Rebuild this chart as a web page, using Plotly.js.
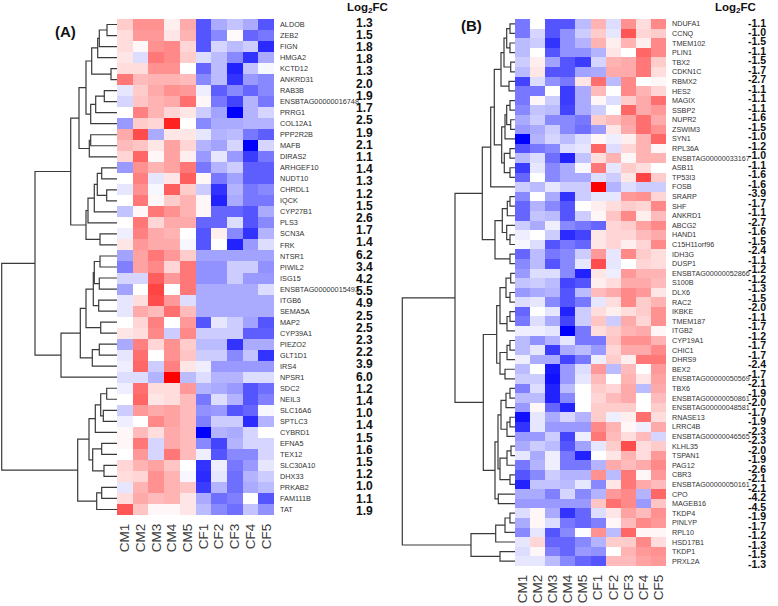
<!DOCTYPE html>
<html><head><meta charset="utf-8">
<script src="https://cdn.plot.ly/plotly-3.0.1.min.js"></script>
<style>body{margin:0;background:#fff}#c{width:778px;height:606px}</style>
</head><body><div id="c"></div>
<script>
const samples = ['CM1','CM2','CM3','CM4','CM5','CF1','CF2','CF3','CF4','CF5'];

const genesA = ['ALDOB','ZEB2','FIGN','HMGA2','KCTD12','ANKRD31','RAB3B','ENSBTAG00000016748','PRRG1','COL12A1','PPP2R2B','MAFB','DIRAS2','ARHGEF10','NUDT10','CHRDL1','IQCK','CYP27B1','PLS3','SCN3A','FRK','NTSR1','PIWIL2','ISG15','ENSBTAG00000015493','ITGB6','SEMA5A','MAP2','CYP39A1','PIEZO2','GLT1D1','IRS4','NPSR1','SDC2','NEIL3','SLC16A6','SPTLC3','CYBRD1','EFNA5','TEX12','SLC30A10','DHX33','PRKAB2','FAM111B','TAT'];

const log2fcA = ['1.3','1.5','1.8','1.8','1.3','2.0','1.9','1.7','2.5','1.9','2.1','1.1','1.4','1.3','1.2','1.5','2.6','1.7','1.4','6.2','3.4','4.2','5.5','4.9','2.5','2.5','2.3','2.2','3.9','6.0','1.2','1.4','1.0','1.4','1.5','1.6','1.5','1.2','1.0','1.1','1.9'];

const exprA = [
[0.6,1.3,1.3,0.2,1.0,-2.0,-1.0,-0.7,-1.0,-2.0],
[0.4,1.2,1.2,0.3,0.9,-2.0,-1.4,0.05,-1.8,-1.6],
[0.4,0.1,1.3,1.4,0.5,-2.0,-0.5,-0.8,-0.6,-2.5],
[0.3,-0.4,1.6,1.4,0.6,-0.4,-0.8,-1.4,-2.4,-1.0],
[0.4,0.4,1.3,1.3,0.0,-1.8,-0.8,-2.6,-0.7,-0.1],
[1.6,0.8,0.9,0.9,0.8,-1.4,-0.8,-2.4,-1.2,-1.4],
[-0.3,0.6,1.0,1.3,1.2,-0.2,-1.9,-1.4,-1.8,-1.4],
[-0.5,0.7,0.9,1.0,1.7,0.1,-1.6,-2.2,-0.9,-1.6],
[0.0,1.5,0.9,0.5,0.3,-0.6,-1.1,-3.0,-0.9,-0.5],
[-1.2,0.6,0.5,2.6,0.0,-1.4,-1.0,-1.0,-0.9,-0.9],
[1.0,2.1,-1.0,0.3,0.3,-0.3,-0.9,-0.8,-1.6,-1.9],
[0.8,0.7,0.3,1.1,0.5,-0.9,-1.1,-0.5,-3.0,-0.5],
[0.5,1.8,0.1,1.1,0.2,-1.2,-0.3,-1.2,-2.3,-1.6],
[-1.2,1.3,0.9,1.1,1.6,-1.6,-0.9,-0.6,-1.9,-1.9],
[0.0,1.5,-0.3,0.3,1.9,0.1,-1.6,-1.1,-1.9,-1.9],
[-0.3,1.3,-0.1,1.9,0.6,-0.6,-2.4,-0.9,-1.6,-1.4],
[0.0,1.6,0.1,0.6,0.9,0.1,-2.6,-1.0,-1.6,-1.6],
[-0.7,0.1,1.6,1.3,0.9,0.1,-1.8,-1.8,-2.0,-1.0],
[0.0,1.6,0.5,1.0,1.0,-1.8,-1.8,-0.4,-2.0,-1.4],
[-0.2,1.5,1.0,0.9,0.0,-2.0,0.2,-1.4,-2.4,-0.9],
[0.3,1.2,1.0,1.0,-0.1,-2.0,0.0,-2.6,-1.2,-0.4],
[-1.1,1.1,1.6,1.2,0.6,-1.1,-1.1,-1.1,-1.1,-1.1],
[-1.5,1.1,1.4,0.5,1.6,-1.3,-1.3,-0.6,-0.6,-1.3],
[-0.5,-0.5,1.9,1.2,1.6,-1.3,-1.3,-0.6,-1.2,-1.2],
[-1.1,0.0,2.2,0.0,1.6,-1.0,-1.0,-1.0,-1.0,-0.4],
[-0.3,0.4,2.1,1.2,-0.4,-1.0,-1.0,-1.0,-1.0,-1.0],
[-0.3,1.0,0.8,1.7,0.8,-1.0,-1.0,-1.0,-1.0,-1.0],
[0.0,0.5,1.5,0.0,1.2,-2.0,-0.3,-0.6,-1.1,-2.0],
[0.3,0.4,1.4,-0.6,1.4,-0.6,-0.6,-0.6,-1.9,-1.9],
[-1.0,1.5,0.5,1.3,0.6,-0.8,-0.8,-2.4,-1.0,-1.0],
[-0.3,1.7,0.0,1.3,0.7,-0.6,-0.6,-1.4,-0.7,-2.4],
[-0.2,1.8,-0.6,1.5,0.3,-0.2,-1.2,-1.2,-1.2,-1.2],
[-0.4,-0.4,-0.9,3.0,-0.8,-0.4,-0.9,-0.9,-0.4,-0.4],
[-0.2,1.7,0.4,0.4,1.2,-0.9,-1.0,-1.2,-2.0,-1.7],
[0.0,1.8,0.3,0.4,0.8,-1.6,-0.4,-0.9,-2.0,-1.5],
[-0.6,1.2,1.0,1.1,0.8,-1.3,-1.2,-2.0,-1.8,-0.1],
[-0.2,0.0,1.4,1.1,0.8,-1.5,-0.6,-0.6,-2.5,-0.9],
[0.1,0.8,0.4,1.0,0.8,-3.0,-0.9,-1.0,-0.5,0.0],
[0.1,1.6,-0.5,1.0,0.8,-1.4,-2.2,-0.9,-0.5,-0.5],
[0.0,1.2,-0.5,1.6,0.8,-0.2,-2.0,-1.4,-1.4,-0.5],
[0.5,0.9,1.1,0.7,0.0,-2.4,-0.2,-1.6,-1.2,-0.3],
[0.4,0.5,1.3,0.9,-0.1,-2.5,-0.3,-1.7,-0.9,-0.6],
[-0.3,0.9,1.3,0.9,0.7,-2.3,-0.9,-1.7,-1.0,-0.8],
[0.4,1.0,0.8,0.9,0.3,-1.0,-1.7,-1.5,0.0,-2.0],
[2.0,0.7,0.1,0.1,0.3,-0.8,-1.4,-1.7,-0.7,-1.3]
];

const genesB = ['NDUFA1','CCNQ','TMEM102','PLIN1','TBX2','CDKN1C','RBMX2','HES2','MAGIX','SSBP2','NUPR2','ZSWIM3','SYN1','RPL36A','ENSBTAG00000033167','ASB11','TP53I3','FOSB','SRARP','SHF','ANKRD1','ABCG2','HAND1','C15H11orf96','IDH3G','DUSP1','ENSBTAG00000052866','S100B','DLX6','RAC2','IKBKE','TMEM187','ITGB2','CYP19A1','CHIC1','DHRS9','BEX2','ENSBTAG00000050569','TBX6','ENSBTAG00000050861','ENSBTAG00000048581','RNASE13','LRRC4B','ENSBTAG00000046565','KLHL35','TSPAN1','PAG12','CBR3','ENSBTAG00000050161','CPO','MAGEB16','TKDP4','PINLYP','RPL10','HSD17B1','TKDP1','PRXL2A'];

const log2fcB = ['-1.1','-1.0','-1.5','-1.1','-1.5','-1.7','-2.7','-1.1','-1.1','-1.1','-1.6','-1.5','-1.0','-1.2','-1.0','-1.1','-1.6','-1.6','-3.9','-1.7','-1.1','-2.7','-1.6','-1.5','-2.4','-1.1','-1.2','-1.2','-1.3','-1.5','-2.0','-1.1','-1.7','-1.2','-1.7','-1.7','-2.4','-1.7','-2.1','-1.9','-2.0','-1.7','-1.9','-2.3','-2.3','-2.0','-1.9','-2.6','-2.1','-2.1','-4.2','-4.5','-1.9','-1.7','-1.2','-1.3','-1.5','-1.3'];

const exprB = [
[-1.6,0.0,-2.0,-2.0,-0.8,0.9,-0.4,1.3,0.4,1.4],
[-1.6,-0.5,-2.0,-1.3,-0.6,0.6,-0.3,2.0,0.5,0.6],
[-0.8,-0.6,-2.4,-1.3,-0.9,0.9,0.2,0.9,0.2,1.4],
[-0.8,0.0,-2.0,-1.3,-1.3,-0.9,0.3,0.0,1.8,1.4],
[-0.6,0.2,-1.1,-2.0,-2.3,-0.5,0.9,1.0,1.6,0.6],
[-0.8,0.3,-2.0,-2.0,-1.1,-1.0,1.0,1.0,1.6,0.4],
[-2.2,-0.4,-1.3,-1.6,0.3,1.7,-0.8,1.4,0.0,0.1],
[-1.6,-1.6,0.0,-2.3,-1.0,0.8,0.0,1.4,0.9,0.5],
[-1.6,0.1,-0.6,-2.3,-1.0,0.1,-0.4,0.6,1.0,1.7],
[-1.4,-0.7,-0.8,-2.2,-1.0,-0.6,0.0,1.8,1.0,1.2],
[-1.0,-0.6,-1.4,-1.4,-1.6,0.6,0.8,1.1,1.7,1.0],
[-1.2,-1.0,-0.6,-1.4,-1.7,-1.2,0.3,1.0,1.7,1.3],
[-3.0,-0.9,-0.5,-0.8,-0.4,0.1,-0.2,0.2,0.9,1.8],
[-2.0,-1.6,-1.4,-0.4,-0.3,1.8,-0.4,0.5,0.9,0.1],
[-0.8,-0.4,-1.7,-2.6,-0.7,0.4,0.9,0.1,0.9,0.9],
[-2.3,-0.3,-1.4,-1.0,-0.1,1.6,-0.3,0.6,0.4,0.0],
[-1.8,0.0,-1.4,-1.0,-1.0,-0.4,-0.6,0.3,2.2,0.6],
[-0.6,-0.8,-0.3,-0.6,-0.6,3.0,-0.9,-0.4,-0.6,-0.6],
[-1.4,0.0,-1.0,-2.4,-0.6,-0.3,-0.3,1.2,1.3,0.5],
[-1.8,-0.9,-1.4,-2.0,0.0,0.2,0.4,0.6,0.5,1.4],
[-1.8,-0.7,-0.8,-2.0,-0.6,0.1,0.7,1.4,0.2,0.8],
[-0.6,-1.0,-0.2,-1.4,-1.6,-1.8,0.5,0.6,1.1,1.4],
[-0.2,0.0,-0.6,-2.5,-2.2,0.3,0.5,0.5,0.8,1.0],
[-0.1,-0.4,-2.0,-1.6,-1.8,0.3,0.5,0.2,0.5,1.4],
[-1.8,-0.8,-1.6,-1.4,-0.6,1.2,-0.3,1.4,0.6,0.4],
[-1.4,-0.8,-2.0,-1.4,-0.3,2.1,-0.3,0.0,0.5,0.4],
[-1.2,-0.4,-0.4,-1.4,-2.6,0.3,-0.2,1.2,0.9,0.9],
[-0.7,-0.6,-0.8,-2.2,-2.0,0.2,0.4,1.0,1.0,0.8],
[-1.2,-1.0,-0.9,-2.0,-0.8,0.8,1.0,1.4,1.2,0.3],
[-0.4,-0.3,-1.4,-2.0,-1.6,-0.3,0.4,1.4,0.6,0.9],
[-1.8,0.0,-0.3,-2.6,-0.6,0.4,0.2,0.4,0.6,1.3],
[-1.6,-0.4,-1.0,-2.2,-0.6,0.7,-0.6,1.0,0.5,1.3],
[-0.2,-0.2,-0.3,-3.0,-1.6,0.4,0.6,0.9,1.0,0.1],
[-0.8,-1.3,-0.9,-0.3,-1.6,-1.6,0.7,1.3,1.3,0.9],
[-0.8,-0.3,-2.3,-1.0,-0.8,-1.2,0.5,1.0,1.0,1.4],
[-0.2,-1.0,-1.0,-2.2,-1.6,-0.2,0.6,0.2,1.6,1.6],
[-0.8,0.0,-2.7,-1.2,-0.4,1.2,-0.8,0.8,0.0,1.2],
[-0.6,-0.6,-2.8,-1.2,-0.3,0.8,0.0,0.9,0.3,1.1],
[-1.5,-0.4,-2.6,-0.8,0.0,0.6,0.5,1.0,-0.8,1.0],
[-0.8,-0.8,-2.6,-1.4,0.0,0.5,0.8,1.0,0.0,0.8],
[-1.2,0.1,-1.8,-2.6,0.0,0.6,0.6,0.6,0.0,0.6],
[-2.8,-0.3,-1.0,-0.5,-0.9,0.6,-0.2,0.2,1.7,0.4],
[-2.4,-0.3,-1.2,-1.2,-1.2,1.4,0.9,0.1,-0.2,1.0],
[-1.2,-1.2,-0.6,-2.2,-0.2,1.6,0.8,0.4,0.8,-0.5],
[-1.0,-0.6,-0.8,-2.0,-1.1,-0.3,0.6,2.1,0.4,0.6],
[-0.3,-1.0,-0.2,-1.6,-2.6,0.0,0.3,0.9,0.4,1.2],
[-1.6,-0.9,-0.2,-1.6,-1.6,-0.9,1.0,0.8,1.0,1.4],
[-2.0,-1.4,-0.6,-0.9,-0.9,1.3,-0.8,1.6,0.1,1.2],
[-2.6,-0.7,-0.7,-0.8,-0.3,-1.4,0.3,1.6,1.0,0.8],
[-1.0,-1.0,-1.5,-0.5,-1.4,-0.9,1.2,1.4,-0.9,1.8],
[-1.2,-1.2,-1.2,-1.2,-1.2,0.7,1.7,1.4,-1.2,0.7],
[-0.4,0.1,-1.0,-2.4,-1.8,-0.4,0.3,1.1,0.8,1.3],
[-1.0,0.1,-0.4,-1.6,-1.8,-1.5,0.1,0.8,1.4,1.2],
[-1.4,-0.3,-2.0,-1.4,0.0,1.3,-0.8,1.8,0.1,0.1],
[-0.3,0.5,-1.8,-1.8,-1.4,-0.9,0.6,0.6,1.4,0.4],
[-0.4,0.1,-1.5,-1.8,-1.2,-1.3,0.0,0.9,1.2,1.3],
[-0.3,-0.3,-0.8,-1.4,-1.8,-2.0,0.8,0.8,1.1,1.2]
];

// Dendrogram trees: [height, left, right]; leaves are row indices
const treeA = [115.3,
  [82,
    [46.3,
      [38,
        [31,
          [25.3, [19.3, [17.7, [10, 0, 1], 2], 3], [6, 4, 5]],
          [26.3, [21.3, [12.7, 6, 7], 8], 9]],
        [27.7, [26.3, 10, 11], 12]],
      [31,
        [29, [22.7, [19.7, [15.3, 13, 14], [10.3, 15, 16]], 17], 18],
        [17, 19, 20]]],
    [56,
      [36.7,
        [31,
          [23.7, [22.7, [17, 21, 22], [17.7, 23, 24]], [18.3, 25, 26]],
          [16.3, 27, 28]],
        [24.7, [17.7, 29, 30], 31]],
      32]],
  [39.3,
    [28,
      [21.7, [16.3, [10.3, 33, 34], [13.7, 35, 36]], 37],
      [24.3, [15.3, 38, 39], [13, 40, 41]]],
    [20.3, [15.3, 42, 43], 44]]];

const treeB = [112.7,
  [60,
    [32.7,
      [24.3,
        [20.7,
          [14, [11, [8.3, [5, 0, 1], [5, 2, 3]], [4.3, 4, 5]], [6, 6, 7]],
          [13.3, [10, [8.3, [5, 8, 9], [4.3, 10, 11]], 12], [10.7, [5, 13, 14], [5, 15, 16]]]],
        17],
      [20,
        [12.7, [7.7, [5, 18, 19], 20], [8.3, 21, [5, 22, 23]]],
        [5, 24, 25]]],
    [31.7,
      [18.3,
        [15, [9, [4.3, 26, 27], [5, 28, 29]], [8, [5, 30, 31], 32]],
        [15, [8, [5, 33, 34], 35], [10, 36, 37]]],
      [20,
        [17,
          [14, [9, [5, 38, 39], 40], [8, [5, 41, 42], 43]],
          [15, [8, [4, 44, 45], 46], [5, 47, 48]]],
        [16.7, 49, 50]]]],
  [44,
    [19.3, [10, [5, 51, 52], 53], 54],
    [15, 55, 56]]];

function dendro(tree) {
  const xs = [], ys = [];
  function walk(n) {
    if (typeof n === 'number') return {y: n, h: 0};
    const l = walk(n[1]), r = walk(n[2]);
    xs.push(l.h, n[0], n[0], r.h, null);
    ys.push(l.y, l.y, r.y, r.y, null);
    return {y: (l.y + r.y) / 2, h: n[0]};
  }
  walk(tree);
  return {xs, ys};
}

const W = 778, H = 606;
const px = v => v / W, py = v => 1 - v / H;
const FONT = 'Liberation Sans, Arial, sans-serif';
const NARROW = 'Liberation Sans Narrow, Arial Narrow, Liberation Sans, Arial, sans-serif';
const cs = [[0,'rgb(0,0,255)'],[0.5,'rgb(255,255,255)'],[1,'rgb(255,0,0)']];
const idx = n => Array.from({length: n}, (_, i) => i);

const dA = dendro(treeA), dB = dendro(treeB);

const traces = [
  {type:'heatmap', z: exprA, x: idx(10), y: idx(genesA.length), xaxis:'x', yaxis:'y',
   colorscale: cs, zmin:-3, zmax:3, showscale:false, hoverinfo:'skip'},
  {type:'scatter', mode:'lines', x: dA.xs, y: dA.ys, xaxis:'x2', yaxis:'y2',
   line:{color:'#3a3a3a', width:1.2}, hoverinfo:'skip', showlegend:false},
  {type:'heatmap', z: exprB, x: idx(10), y: idx(genesB.length), xaxis:'x3', yaxis:'y3',
   colorscale: cs, zmin:-3, zmax:3, showscale:false, hoverinfo:'skip'},
  {type:'scatter', mode:'lines', x: dB.xs, y: dB.ys, xaxis:'x4', yaxis:'y4',
   line:{color:'#3a3a3a', width:1.2}, hoverinfo:'skip', showlegend:false}
];

const hmX = (dom, anchor) => ({domain: dom, range:[-0.5, 9.5], anchor, tickmode:'array',
  tickvals: idx(10), ticktext: samples, tickangle:-90, ticks:'', showgrid:false, zeroline:false,
  showline:false, ticklabelstandoff: 5, tickfont:{family:FONT, size:13.5, color:'#3a3a3a'}, fixedrange:true});
const hmY = (dom, anchor, genes, size) => ({domain: dom, range:[genes.length - 0.5, -0.5], anchor, side:'right',
  tickmode:'array', tickvals: idx(genes.length), ticktext: genes, ticks:'', showgrid:false,
  zeroline:false, showline:false, ticklabelstandoff: 5, tickfont:{family:NARROW, size, color:'#333'}, fixedrange:true});
const hidden = (dom, range, anchor) => ({domain: dom, range, anchor, visible:false, fixedrange:true});

const yDomA = [py(515), py(19)], yDomB = [py(566), py(19)];

const annotations = [];
function numbers(vals, y0, y1, xr, size) {
  vals.forEach((v, i) => {
    const y = y0 + i * (y1 - y0) / (vals.length - 1);
    annotations.push({xref:'paper', yref:'paper', x: px(xr), y: py(y), xanchor:'right', yanchor:'middle',
      text: '<b>' + v + '</b>', showarrow:false, borderpad:0, font:{family:FONT, size, color:'#111'}});
  });
}
numbers(log2fcA, 22.7, 510.7, 374, 12);
numbers(log2fcB, 22.5, 563.5, 767, 10.5);
annotations.push({xref:'paper', yref:'paper', x: px(367), y: 1, yanchor:'top', borderpad:0, text:'<b>Log<sub>2</sub>FC</b>',
  showarrow:false, font:{family:FONT, size:11.5, color:'#111'}});
annotations.push({xref:'paper', yref:'paper', x: px(757), y: 1, yanchor:'top', borderpad:0, text:'<b>Log<sub>2</sub>FC</b>',
  showarrow:false, font:{family:FONT, size:11.5, color:'#111'}});
annotations.push({xref:'paper', yref:'paper', x: px(53), y: py(21), text:'<b>(A)</b>',
  showarrow:false, font:{family:FONT, size:15, color:'#111'}});
annotations.push({xref:'paper', yref:'paper', x: px(471), y: py(15), text:'<b>(B)</b>',
  showarrow:false, font:{family:FONT, size:15, color:'#111'}});

const layout = {
  width: W, height: H, margin:{l:0, r:0, t:0, b:0}, paper_bgcolor:'#fff', plot_bgcolor:'rgba(0,0,0,0)',
  showlegend:false,
  xaxis: hmX([px(117), px(274)], 'y'),
  yaxis: hmY(yDomA, 'x', genesA, 7.3),
  xaxis2: hidden([0, px(117)], [117, 0], 'y2'),
  yaxis2: hidden(yDomA, [genesA.length - 0.5, -0.5], 'x2'),
  xaxis3: hmX([px(515), px(666)], 'y3'),
  yaxis3: hmY(yDomB, 'x3', genesB, 7.2),
  xaxis4: hidden([px(390), px(515)], [125, 0], 'y4'),
  yaxis4: hidden(yDomB, [genesB.length - 0.5, -0.5], 'x4'),
  annotations
};

Plotly.newPlot('c', traces, layout, {displayModeBar:false, staticPlot:true});
</script>
</body></html>
